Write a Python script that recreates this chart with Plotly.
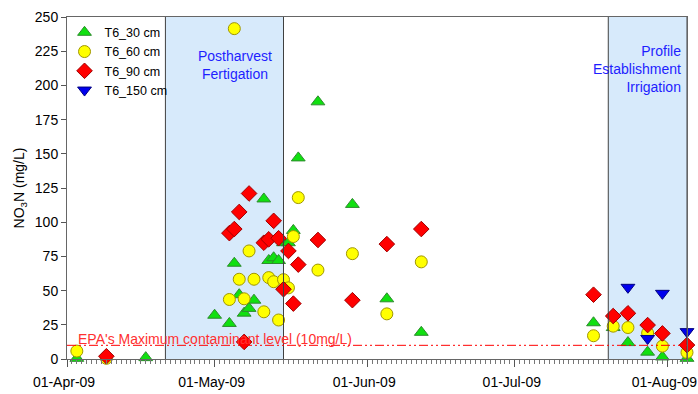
import plotly.graph_objects as go

# ---- data ----
dates_30 = ["2009-04-03", "2009-04-17", "2009-05-01", "2009-05-04", "2009-05-05", "2009-05-06",
            "2009-05-07", "2009-05-08", "2009-05-09", "2009-05-11", "2009-05-12", "2009-05-13",
            "2009-05-14", "2009-05-15", "2009-05-16", "2009-05-17", "2009-05-18", "2009-05-22",
            "2009-05-29", "2009-06-05", "2009-06-12", "2009-07-17", "2009-07-21", "2009-07-24",
            "2009-07-28", "2009-07-31", "2009-08-05"]
no3_30 = [0.5, 1, 32, 26, 70, 47, 33.5, 37, 43, 117, 72, 74, 72, 85, 85, 94, 147, 188,
          113, 44, 19.5, 26.5, 23, 12, 5, 1.5, 0.5]

dates_60 = ["2009-04-03", "2009-04-09", "2009-05-04", "2009-05-05", "2009-05-06", "2009-05-07",
            "2009-05-08", "2009-05-09", "2009-05-11", "2009-05-12", "2009-05-13", "2009-05-14",
            "2009-05-15", "2009-05-16", "2009-05-17", "2009-05-18", "2009-05-22", "2009-05-29",
            "2009-06-05", "2009-06-12", "2009-07-17", "2009-07-21", "2009-07-24", "2009-07-28",
            "2009-07-31", "2009-08-05"]
no3_60 = [5.8, 0.5, 43.5, 241.5, 58.3, 44, 79, 58.3, 34.5, 59.5, 56.5, 28.5, 58, 52, 89.5,
          118, 65, 77, 33, 71, 17, 24, 23, 19, 9.4, 4.8]

dates_90 = ["2009-04-09", "2009-05-04", "2009-05-05", "2009-05-06", "2009-05-07", "2009-05-08",
            "2009-05-11", "2009-05-12", "2009-05-13", "2009-05-14", "2009-05-15", "2009-05-16",
            "2009-05-17", "2009-05-18", "2009-05-22", "2009-05-29", "2009-06-05", "2009-06-12",
            "2009-07-17", "2009-07-21", "2009-07-24", "2009-07-28", "2009-07-31", "2009-08-05"]
no3_90 = [2, 92, 95, 107.5, 12.5, 121, 85, 87.5, 101, 88.3, 51, 79, 40.5, 69, 87, 43, 84, 95,
          47, 31.4, 33.4, 24.8, 18.7, 10.2]

dates_150 = ["2009-07-24", "2009-07-28", "2009-07-31", "2009-08-05"]
no3_150 = [52.4, 15, 48, 20]

series_names = ["T6_30 cm", "T6_60 cm", "T6_90 cm", "T6_150 cm"]

periods = [("2009-04-21", "2009-05-15"), ("2009-07-20", "2009-08-05")]
period_labels = ["Postharvest<br>Fertigation", "Profile<br>Establishment<br>Irrigation"]
epa_limit = 10
x_range = ["2009-04-01", "2009-08-05"]
month_ticks = ["2009-04-01", "2009-05-01", "2009-06-01", "2009-07-01", "2009-08-01"]
month_labels = ["01-Apr-09", "01-May-09", "01-Jun-09", "01-Jul-09", "01-Aug-09"]

FONT = "Liberation Sans, Arial, sans-serif"

fig = go.Figure()

styles = [
    dict(symbol="triangle-up", size=12, color="#10E010", line=dict(color="#2E8B2E", width=1)),
    dict(symbol="circle", size=12, color="#FFFF00", line=dict(color="#A09600", width=1)),
    dict(symbol="diamond", size=12, color="#FF0000", line=dict(color="#A00000", width=1)),
    dict(symbol="triangle-down", size=12, color="#0000EE", line=dict(color="#000080", width=1)),
]
for name, xs, ys, st in zip(series_names,
                             [dates_30, dates_60, dates_90, dates_150],
                             [no3_30, no3_60, no3_90, no3_150], styles):
    fig.add_trace(go.Scatter(x=xs, y=ys, mode="markers", name=name, marker=st, cliponaxis=False))

# shaded periods
for (x0, x1) in periods:
    fig.add_shape(type="rect", xref="x", yref="paper", x0=x0, x1=x1, y0=0, y1=1,
                  fillcolor="#D7EAFB", line=dict(width=0), layer="below")
    for xv in (x0, x1):
        fig.add_shape(type="line", xref="x", yref="paper", x0=xv, x1=xv, y0=0, y1=1,
                      line=dict(color="#404040", width=1), layer="above")

# EPA line
fig.add_shape(type="line", xref="paper", yref="y", x0=0, x1=1, y0=epa_limit, y1=epa_limit,
              line=dict(color="#FF0000", width=1, dash="9px,3px,2px,3px,2px,3px"), layer="above")
fig.add_annotation(xref="paper", yref="y", x=0.014, y=epa_limit, xanchor="left", yanchor="bottom",
                   text="EPA's Maximum contaminant level (10mg/L)", showarrow=False,
                   font=dict(family=FONT, size=14, color="#FF3030"), yshift=-4)

fig.add_annotation(xref="paper", yref="paper", x=0.271, y=0.861, xanchor="center", yanchor="middle",
                   text=period_labels[0], showarrow=False, align="center",
                   font=dict(family=FONT, size=14, color="#1E1EFF"))
fig.add_annotation(xref="paper", yref="paper", x=0.994, y=0.848, xanchor="right", yanchor="middle",
                   text=period_labels[1], showarrow=False, align="right",
                   font=dict(family=FONT, size=14, color="#1E1EFF"))

fig.update_layout(
    width=698, height=394,
    margin=dict(l=67, r=11, t=17, b=35),
    paper_bgcolor="white", plot_bgcolor="white",
    font=dict(family=FONT, size=14, color="black"),
    showlegend=True,
    legend=dict(x=-0.004, y=0.998, xanchor="left", yanchor="top", bgcolor="rgba(0,0,0,0)",
                font=dict(family=FONT, size=12.5), tracegroupgap=0),
    xaxis=dict(type="date", range=x_range, tickvals=month_ticks, ticktext=month_labels,
               ticks="outside", ticklen=7, tickcolor="#555555", showgrid=False,
               showline=True, linecolor="#666666", mirror=True, zeroline=False,
               automargin=False, ticklabelstandoff=3, ticklabelshift=-3,
               ticklabeloverflow="allow",
               tickfont=dict(family=FONT, size=14),
               minor=dict(dtick=86400000, ticks="outside", ticklen=4, tickcolor="#777777",
                          showgrid=False)),
    yaxis=dict(range=[0, 250], dtick=25, ticks="outside", ticklen=5, tickcolor="#555555",
               showgrid=False, showline=True, linecolor="#666666", mirror=True, zeroline=False,
               automargin=False, tickfont=dict(family=FONT, size=14),
               title=dict(text="NO<sub>3</sub>N (mg/L)", font=dict(family=FONT, size=14), standoff=6)),
)

fig.write_html("out.html")
